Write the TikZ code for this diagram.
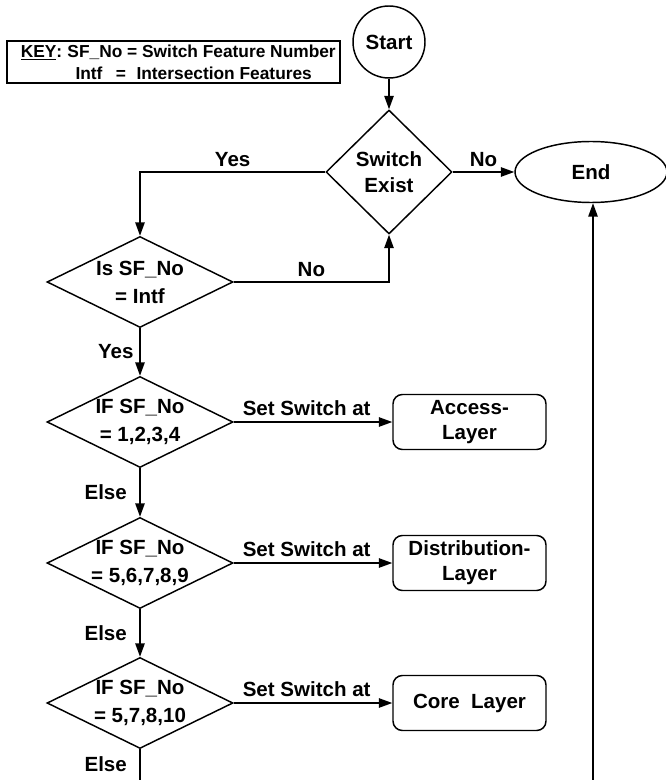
\documentclass[tikz,border=0pt]{standalone}
\usepackage{fontspec}
\setmainfont{Liberation Sans}
\usetikzlibrary{shapes.geometric,arrows.meta}

\tikzset{
  flow/.style={-{Triangle[length=10pt,width=7pt]}},
  decision/.style={draw,diamond,inner sep=0pt,minimum width=139.5pt,minimum height=68.25pt},
  dtext/.style={align=center,inner sep=0pt},
  layerbox/.style={draw,rounded corners=7pt,align=center,minimum width=114.75pt,minimum height=41.25pt,inner sep=0pt},
  keybox/.style={draw,line width=0.8pt,inner sep=0pt,minimum width=249.75pt,minimum height=31.5pt,font=\bfseries\fontsize{13}{16.5}\selectfont}
}

\begin{document}
\begin{tikzpicture}[x=0.75pt,y=-0.75pt,line width=1.1pt,font=\bfseries\fontsize{15.4}{19}\selectfont]
\useasboundingbox (0,0) rectangle (665,780);
\coordinate (bl) at (140,780);
\coordinate (br) at (593,780);

% the key
\node[keybox] (key) at (173.5,62) {\parbox{229pt}{\makebox[35pt][l]{\underline{KEY}:}\makebox[0pt][l]{SF\_No = Switch Feature Number}\\
  \hspace*{41pt}Intf\hspace{10pt}=\hspace{8pt}Intersection Features}};

% start, end and the first tests
\node[draw,circle,minimum size=54pt,inner sep=0pt] (start) at (389,42) {Start};
\node[decision,minimum width=94.5pt,minimum height=93pt] (sw) at (389,172) {};
\node[dtext] (swt) at (sw) {Switch\\Exist};
\node[draw,ellipse,minimum width=114pt,minimum height=45.75pt] (end) at (591,172) {End};
\node[decision] (isf) at (140,282) {};
\node[dtext] (isft) at (isf) {Is SF\_No\\[2pt]= Intf};

\draw[flow] (start) -- (sw);
\draw[flow] (sw) -- node[above] {No} (end);
\draw[flow] (sw.west) -| node[above,pos=0.25] {Yes} (isf.north);
\draw[flow] (isf.east) -| node[above,pos=0.25] {No} (sw.south);

% the three feature tests and their layers
\foreach \n/\y/\vals/\layer in {1/422/{1,2,3,4}/{Access-\\Layer},2/563/{5,6,7,8,9}/{Distribution-\\Layer},3/703/{5,7,8,10}/{Core\ \ Layer}}
{
  \node[decision] (d\n) at (140,\y) {};
  \node[dtext] (t\n) at (d\n) {IF SF\_No\\[2pt]= \vals};
  \node[layerbox] (l\n) at (469.5,\y) {\layer};
  \draw[flow] (d\n) -- node[above=1pt,pos=0.46] {Set Switch at} (l\n);
}

% down the left side
\draw[flow] (isf) -- node[left=1pt] {Yes} (d1);
\draw[flow] (d1) -- node[left=6pt] {Else} (d2);
\draw[flow] (d2) -- node[left=6pt] {Else} (d3);
\draw (d3) -- node[left=6pt] {Else} (bl);
% back up to the end
\draw[flow] (br) -- (br |- end.south);
\end{tikzpicture}
\end{document}
